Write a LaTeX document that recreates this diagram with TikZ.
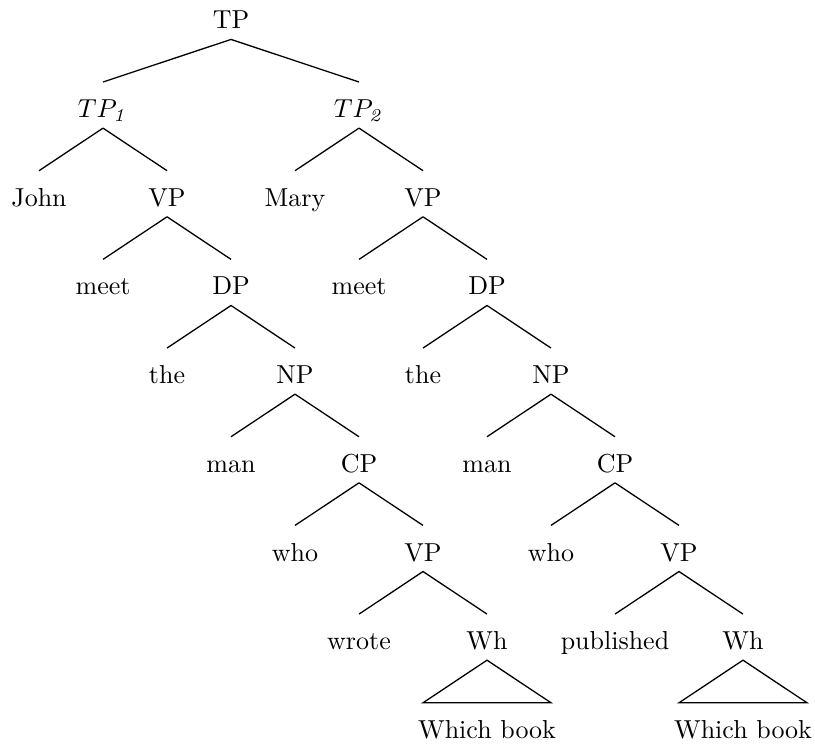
\documentclass[tikz,border=0pt]{standalone}
\usepackage{amsmath}
\usetikzlibrary{calc,positioning}
\tikzset{
    semithick,
    word/.style = {anchor=base, inner sep=0pt, text height=13.5pt, text depth=3.85pt},
    branch/.style = {line width=0.5pt}
}

\begin{document}
\begin{tikzpicture}[x=0.866cm, y=1.2cm]

    \useasboundingbox (-3.61,0.326) rectangle (9.125,-8.1);

    % Root
    \node[word] (TP) at (0,0) {TP};
    \node[word] (TPa) at (-2,-1) {$TP_{\mathit{1}}$};
    \node[word] (TPb) at (2,-1) {$TP_{\mathit{2}}$};

    % Left clause
    \node[word] (John) at (-3,-2) {John};
    \node[word] (VPa) at (-1,-2) {VP};
    \node[word] (meetA) at (-2,-3) {meet};
    \node[word] (DPa) at (0,-3) {DP};
    \node[word] (theA) at (-1,-4) {the};
    \node[word] (NPa) at (1,-4) {NP};
    \node[word] (manA) at (0,-5) {man};
    \node[word] (CPa) at (2,-5) {CP};
    \node[word] (whoA) at (1,-6) {who};
    \node[word] (VPc) at (3,-6) {VP};
    \node[word] (wrote) at (2,-7) {wrote};
    \node[word] (WhA) at (4,-7) {Wh};
    \node[word] (WbA) at (4,-8) {Which book};

    % Right clause
    \node[word] (Mary) at (1,-2) {Mary};
    \node[word] (VPb) at (3,-2) {VP};
    \node[word] (meetB) at (2,-3) {meet};
    \node[word] (DPb) at (4,-3) {DP};
    \node[word] (theB) at (3,-4) {the};
    \node[word] (NPb) at (5,-4) {NP};
    \node[word] (manB) at (4,-5) {man};
    \node[word] (CPb) at (6,-5) {CP};
    \node[word] (whoB) at (5,-6) {who};
    \node[word] (VPd) at (7,-6) {VP};
    \node[word] (published) at (6,-7) {published};
    \node[word] (WhB) at (8,-7) {Wh};
    \node[word] (WbB) at (8,-8) {Which book};

    % Branches
    \foreach \p/\c in {TP/TPa, TP/TPb,
        TPa/John, TPa/VPa, VPa/meetA, VPa/DPa, DPa/theA, DPa/NPa,
        NPa/manA, NPa/CPa, CPa/whoA, CPa/VPc, VPc/wrote, VPc/WhA,
        TPb/Mary, TPb/VPb, VPb/meetB, VPb/DPb, DPb/theB, DPb/NPb,
        NPb/manB, NPb/CPb, CPb/whoB, CPb/VPd, VPd/published, VPd/WhB}
        \draw[branch] (\p.south) -- (\c.north);

    % Triangles
    \draw[branch] (WhA.south) -- ($(WbA.north)+(-1,0)$) -- ($(WbA.north)+(1,0)$) -- cycle;
    \draw[branch] (WhB.south) -- ($(WbB.north)+(-1,0)$) -- ($(WbB.north)+(1,0)$) -- cycle;

\end{tikzpicture}
\end{document}
